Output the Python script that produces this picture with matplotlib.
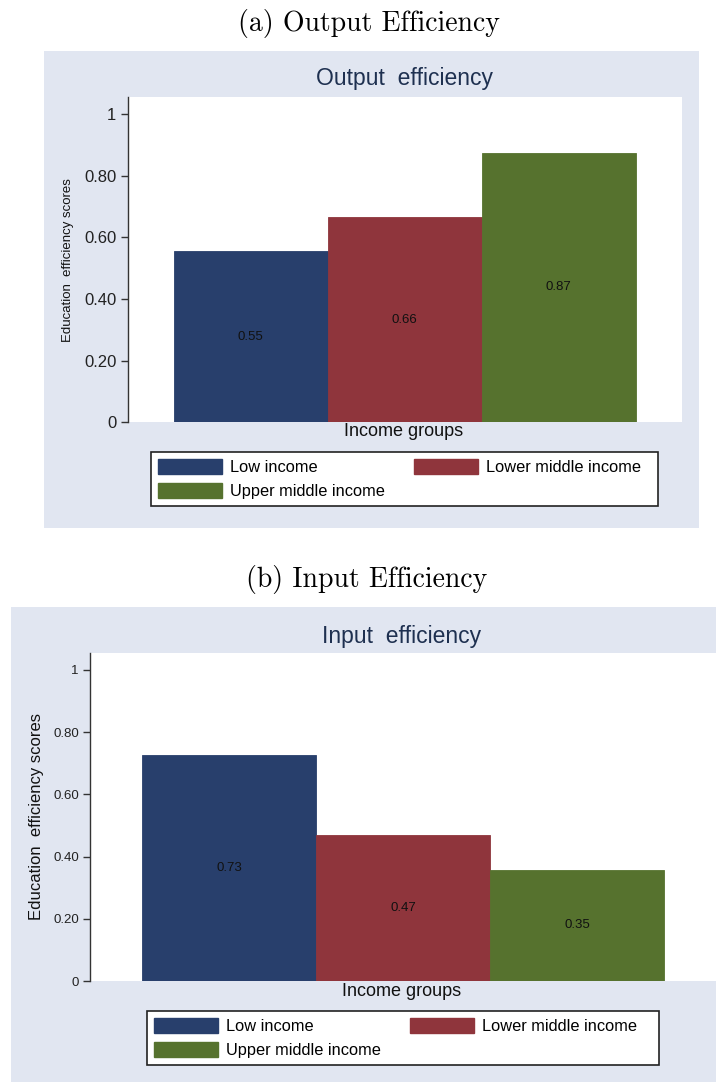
import matplotlib
matplotlib.use("Agg")
import matplotlib.pyplot as plt
from matplotlib.patches import Rectangle, Patch

# ---- data ----
groups = ["Low income", "Lower middle income", "Upper middle income"]
output_eff = [0.555, 0.665, 0.875]
output_labels = ["0.55", "0.66", "0.87"]
input_eff = [0.727, 0.469, 0.357]
input_labels = ["0.73", "0.47", "0.35"]
yticks = [0, 0.2, 0.4, 0.6, 0.8, 1.0]
ytick_labels = ["0", "0.20", "0.40", "0.60", "0.80", "1"]
colors = ["#283f6c", "#8f353c", "#56722e"]

BG = "#e1e6f1"
TITLE_C = "#1e3050"
SANS = ["Liberation Sans", "DejaVu Sans"]

W, H = 716, 1082
fig = plt.figure(figsize=(W / 100, H / 100), dpi=100)
fig.patch.set_facecolor("white")


def fx(x):
    return x / W


def fy(y):
    return 1 - y / H


def panel(bg, ax_box, vals, labels, title, title_xy, caption, cap_xy,
          ylab_xy, ylab_fs, tick_fs, xlab_xy, leg_box, leg_anchor, ylim_top):
    x0, y0, x1, y1 = bg
    fig.patches.append(Rectangle((fx(x0), fy(y1)), fx(x1) - fx(x0), fy(y0) - fy(y1),
                                 transform=fig.transFigure, facecolor=BG,
                                 edgecolor="none", zorder=-5))
    a0, b0, a1, b1 = ax_box
    ax = fig.add_axes([fx(a0), fy(b1), fx(a1) - fx(a0), fy(b0) - fy(b1)])
    ax.set_zorder(2)
    ax.set_facecolor("white")
    xs = list(range(len(vals)))
    ax.bar(xs, vals, width=1.0, color=colors, edgecolor=colors, linewidth=0.6)
    for x, v, l in zip(xs, vals, labels):
        ax.text(x, v / 2, l, ha="center", va="center", fontsize=9.5,
                family=SANS, color="#111111")
    ax.set_xlim(-0.8, 2.8)
    ax.set_ylim(0, ylim_top)
    ax.set_yticks(yticks)
    ax.set_yticklabels(ytick_labels, family=SANS, fontsize=tick_fs, color="#222222")
    ax.set_xticks([])
    for s in ["top", "right", "bottom"]:
        ax.spines[s].set_visible(False)
    ax.spines["left"].set_color("#333333")
    ax.spines["left"].set_linewidth(1.0)
    ax.tick_params(axis="y", length=5, width=1.0, color="#333333", pad=3)

    fig.text(fx(title_xy[0]), fy(title_xy[1]), title, ha="center", va="center",
             fontsize=16.5, family=SANS, color=TITLE_C)
    fig.text(fx(cap_xy[0]), fy(cap_xy[1]), caption, ha="center", va="center",
             fontsize=20, family="cmr10", color="black")
    fig.text(fx(ylab_xy[0]), fy(ylab_xy[1]), "Education  efficiency scores",
             ha="center", va="center", rotation=90, fontsize=ylab_fs,
             family=SANS, color="#111111")
    fig.text(fx(xlab_xy[0]), fy(xlab_xy[1]), "Income groups", ha="center",
             va="center", fontsize=13, family=SANS, color="#111111")

    # legend frame
    l0, t0, l1, t1 = leg_box
    fig.patches.append(Rectangle((fx(l0), fy(t1)), fx(l1) - fx(l0), fy(t0) - fy(t1),
                                 transform=fig.transFigure, facecolor="white",
                                 edgecolor="#222222", linewidth=1.2, zorder=3))
    handles = [Patch(facecolor=c, edgecolor=c, label=g) for c, g in zip(colors, groups)]
    order = [0, 2, 1]
    leg = fig.legend([handles[i] for i in order], [groups[i] for i in order],
                     ncol=2, loc="upper left",
                     bbox_to_anchor=(fx(leg_anchor[0]), fy(leg_anchor[1])),
                     bbox_transform=fig.transFigure,
                     prop={"family": SANS, "size": 11.8}, handlelength=3.9,
                     handleheight=1.05, handletextpad=0.5, borderpad=0,
                     labelspacing=0.45, columnspacing=1.75, frameon=False,
                     borderaxespad=0)
    leg.set_zorder(4)
    return ax


panel(bg=(43.5, 51, 699, 528), ax_box=(127.5, 96.7, 682, 422.3),
      vals=output_eff, labels=output_labels, title="Output  efficiency",
      title_xy=(404, 79), caption="(a) Output Efficiency", cap_xy=(369, 23),
      ylab_xy=(68, 260), ylab_fs=9.5, tick_fs=12, xlab_xy=(404, 432),
      leg_box=(151, 452, 658, 506), leg_anchor=(158, 459), ylim_top=1.056)

panel(bg=(11, 607, 716, 1082), ax_box=(90, 652.7, 716, 981),
      vals=input_eff, labels=input_labels, title="Input  efficiency",
      title_xy=(402, 637), caption="(b) Input Efficiency", cap_xy=(367, 579),
      ylab_xy=(36.5, 816), ylab_fs=12, tick_fs=9.5, xlab_xy=(402, 992),
      leg_box=(147, 1011, 659, 1065), leg_anchor=(154, 1018), ylim_top=1.0556)

fig.savefig("out.png", dpi=100, facecolor="white")
